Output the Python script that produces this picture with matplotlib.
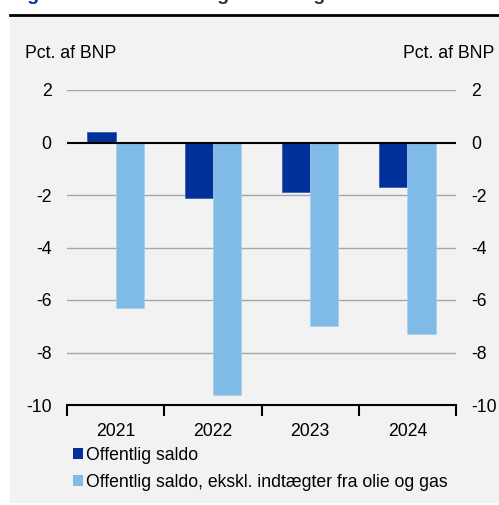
import matplotlib.pyplot as plt
from matplotlib.patches import Rectangle, Patch
from matplotlib.lines import Line2D

plt.rcParams['font.family'] = ['Liberation Sans', 'DejaVu Sans']

years = ['2021', '2022', '2023', '2024']
saldo = [0.4, -2.1, -1.9, -1.7]
saldo_ex = [-6.3, -9.6, -7.0, -7.3]
labels = ['Offentlig saldo', 'Offentlig saldo, ekskl. indtægter fra olie og gas']
yticks = [2, 0, -2, -4, -6, -8, -10]

dark = '#00309A'
light = '#80BAE6'
W, H = 499, 505
fs = 12.7

fig = plt.figure(figsize=(W / 100, H / 100), dpi=100)

# grey panel and rule line under the (cut off) title
fig.patches.append(Rectangle((10 / W, 2 / H), 1 - 10 / W, 1 - 18 / H,
                             transform=fig.transFigure, facecolor='#F2F2F2',
                             edgecolor='none', zorder=-5))
fig.lines.append(Line2D([10 / W, 1], [1 - 14.5 / H, 1 - 14.5 / H],
                        transform=fig.transFigure, color='black', lw=2))
fig.text(10 / W, 1 + 0.5 / H, 'Figur 1.', color=dark, fontsize=14,
         fontweight='bold', va='baseline')
fig.text(110 / W, 1 + 0.5 / H, 'Den offentlige saldo og olie', color='#333333',
         fontsize=14, fontweight='bold', va='baseline')

ax = fig.add_axes([67 / W, 1 - 405 / H, 389 / W, 315 / H])
ax.set_facecolor('none')

x = list(range(len(years)))
bw = 0.29
ax.bar([i - bw / 2 for i in x], saldo, bw, color=dark, edgecolor='#3355AA',
       linewidth=0.5, zorder=3)
ax.bar([i + bw / 2 for i in x], saldo_ex, bw, color=light, edgecolor='#A8D0EE',
       linewidth=0.5, zorder=3)

ax.set_xlim(-0.5, 3.5)
ax.set_ylim(-10, 2)
ax.set_yticks(yticks)
ax.set_yticklabels([str(t) for t in yticks], fontsize=fs)
ax.tick_params(axis='y', length=0, pad=11)
for t in yticks:
    if t == 0:
        ax.axhline(0, color='black', lw=1.5, zorder=4)
    elif t > -10:
        ax.axhline(t, color='#A6A6A6', lw=1, zorder=1)

ax.set_xticks([-0.5, 0.5, 1.5, 2.5, 3.5])
ax.set_xticklabels([])
ax.tick_params(axis='x', which='major', length=8, width=1.5, direction='out')
ax.set_xticks(x, minor=True)
ax.set_xticklabels(years, minor=True, fontsize=fs)
ax.tick_params(axis='x', which='minor', length=0, pad=13)

for s in ['top', 'left', 'right']:
    ax.spines[s].set_visible(False)
ax.spines['bottom'].set_linewidth(1.5)

ax2 = ax.twinx()
ax2.set_ylim(-10, 2)
ax2.set_yticks(yticks)
ax2.set_yticklabels([str(t) for t in yticks], fontsize=fs)
ax2.tick_params(axis='y', length=0, pad=11)
for s in ax2.spines.values():
    s.set_visible(False)

fig.text(25 / W, 1 - 53 / H, 'Pct. af BNP', fontsize=fs, va='center', ha='left')
fig.text(494 / W, 1 - 53 / H, 'Pct. af BNP', fontsize=fs, va='center', ha='right')

handles = [Patch(facecolor=dark, edgecolor='none'), Patch(facecolor=light, edgecolor='none')]
fig.legend(handles, labels, loc='upper left', bbox_to_anchor=(73 / W, 1 - 447 / H),
           frameon=False, fontsize=fs, handlelength=0.55, handleheight=0.55,
           handletextpad=0.2, labelspacing=0.55, borderpad=0, borderaxespad=0)

plt.savefig('out.png', dpi=100)
